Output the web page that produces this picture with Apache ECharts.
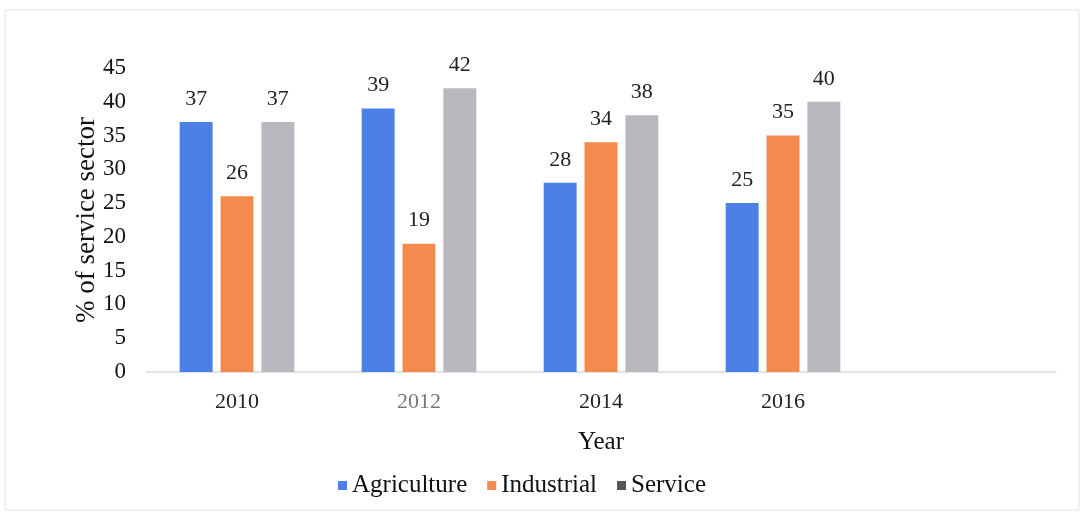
<!DOCTYPE html>
<html><head><meta charset="utf-8">
<script src="https://cdn.jsdelivr.net/npm/echarts@6/dist/echarts.min.js"></script>
<style>html,body{margin:0;padding:0;background:#fff}#c{width:1084px;height:514px}</style>
</head><body><div id="c"></div>
<script>
const categories = ['2010', '2012', '2014', '2016', ''];
const agriculture = [37, 39, 28, 25, null];
const industrial = [26, 19, 34, 35, null];
const service = [37, 42, 38, 40, null];
const yTicks = {min: 0, max: 45, interval: 5};

const font = 'Liberation Serif';
const chart = echarts.init(document.getElementById('c'));
const label = {show: true, position: 'top', distance: 12, fontFamily: font, fontSize: 22, color: '#222'};
chart.setOption({
  animation: false,
  textStyle: {fontFamily: font},
  graphic: [{type: 'rect', shape: {x: 5, y: 10, width: 1074, height: 500}, style: {fill: 'none', stroke: '#e2e2e2', lineWidth: 1}}],
  grid: {left: 146, right: 28, top: 68, bottom: 142},
  legend: {
    top: 468, left: 333, itemWidth: 9, itemHeight: 9, itemGap: 20, icon: 'rect',
    textStyle: {fontFamily: font, fontSize: 25, color: '#111'},
    data: ['Agriculture', 'Industrial', {name: 'Service', itemStyle: {color: '#555'}}]
  },
  xAxis: {
    type: 'category',
    data: categories.map((c, i) => i === 1 ? {value: c, textStyle: {color: '#777'}} : c),
    name: 'Year', nameLocation: 'middle', nameGap: 58, nameMoveOverlap: false,
    nameTextStyle: {fontFamily: font, fontSize: 25, color: '#111'},
    axisTick: {show: false},
    axisLine: {lineStyle: {color: '#d9d9d9', width: 1.5}},
    axisLabel: {fontFamily: font, fontSize: 22, color: '#222', margin: 19}
  },
  yAxis: {
    type: 'value', min: yTicks.min, max: yTicks.max, interval: yTicks.interval,
    name: '% of service sector', nameLocation: 'middle', nameGap: 46, nameRotate: 90, nameMoveOverlap: false,
    nameTextStyle: {fontFamily: font, fontSize: 27, color: '#111'},
    splitLine: {show: false}, axisLine: {show: false}, axisTick: {show: false},
    axisLabel: {fontFamily: font, fontSize: 23, color: '#111', margin: 20}
  },
  series: [
    {name: 'Agriculture', type: 'bar', data: agriculture, barGap: '24%', barCategoryGap: '37%', itemStyle: {color: '#4a80e8'}, label},
    {name: 'Industrial', type: 'bar', data: industrial, barGap: '24%', barCategoryGap: '37%', itemStyle: {color: '#f58a4e'}, label},
    {name: 'Service', type: 'bar', data: service, barGap: '24%', barCategoryGap: '37%', itemStyle: {color: '#b8b8be'}, label}
  ]
});
</script></body></html>
